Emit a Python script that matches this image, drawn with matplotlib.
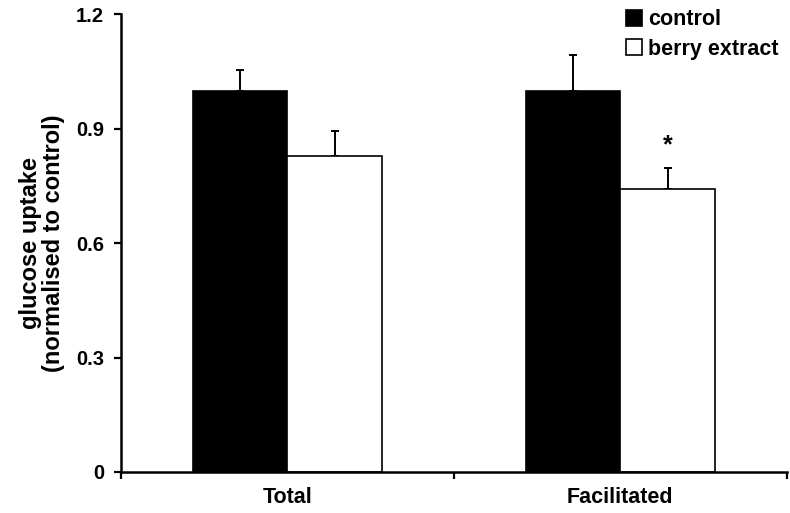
import matplotlib.pyplot as plt

categories = ['Total', 'Facilitated']
control = [1.0, 1.0]
control_err = [0.054, 0.094]
berry = [0.829, 0.741]
berry_err = [0.064, 0.055]
yticks = [0, 0.3, 0.6, 0.9, 1.2]
ytick_labels = ['0', '0.3', '0.6', '0.9', '1.2']

plt.rcParams['font.family'] = ['Liberation Sans', 'DejaVu Sans']
plt.rcParams['font.weight'] = 'bold'

fig = plt.figure(figsize=(7.9, 5.13), dpi=100)
ax = fig.add_axes([0.153, 0.080, 0.843, 0.892])

centers = [0.5, 1.5]
width = 0.284
xc = [c - width / 2 for c in centers]
xb = [c + width / 2 for c in centers]

ax.bar(xc, control, width, color='black', edgecolor='black', linewidth=1.2,
       label='control', zorder=2)
ax.bar(xb, berry, width, color='white', edgecolor='black', linewidth=1.2,
       label='berry extract', zorder=2)
ax.errorbar(xc, control, yerr=[[0, 0], control_err], fmt='none', ecolor='black',
            elinewidth=1.4, capsize=3, capthick=1.4, zorder=1)
ax.errorbar(xb, berry, yerr=[[0, 0], berry_err], fmt='none', ecolor='black',
            elinewidth=1.4, capsize=3, capthick=1.4, zorder=1)

# significance marker
ax.text(xb[1], berry[1] + berry_err[1] + 0.03, '*', ha='center', va='bottom',
        fontsize=18, fontweight='bold')

ax.set_xlim(0, 2)
ax.set_ylim(0, 1.2)
ax.set_yticks(yticks)
ax.set_yticklabels(ytick_labels, fontsize=14.5, fontweight='bold')
ax.set_xticks([0, 1, 2])
ax.set_xticklabels([])
ax.set_xticks(centers, minor=True)
ax.set_xticklabels(categories, minor=True, fontsize=15.5, fontweight='bold')
ax.tick_params(axis='x', which='minor', length=0, pad=11)
ax.tick_params(axis='both', which='major', direction='out', length=5, width=1.6)
ax.tick_params(axis='y', pad=7)

for s in ['top', 'right']:
    ax.spines[s].set_visible(False)
for s in ['left', 'bottom']:
    ax.spines[s].set_linewidth(1.8)

ax.set_ylabel('glucose uptake\n(normalised to control)', fontsize=17,
              fontweight='bold', linespacing=1.0, labelpad=8)

leg = ax.legend(loc='upper right', bbox_to_anchor=(1.0, 1.03), frameon=False,
                fontsize=15.5, handlelength=0.75, handleheight=0.75,
                handletextpad=0.25, labelspacing=0.4, borderaxespad=0)
for t in leg.get_texts():
    t.set_fontweight('bold')

fig.savefig('out.png', dpi=100)
